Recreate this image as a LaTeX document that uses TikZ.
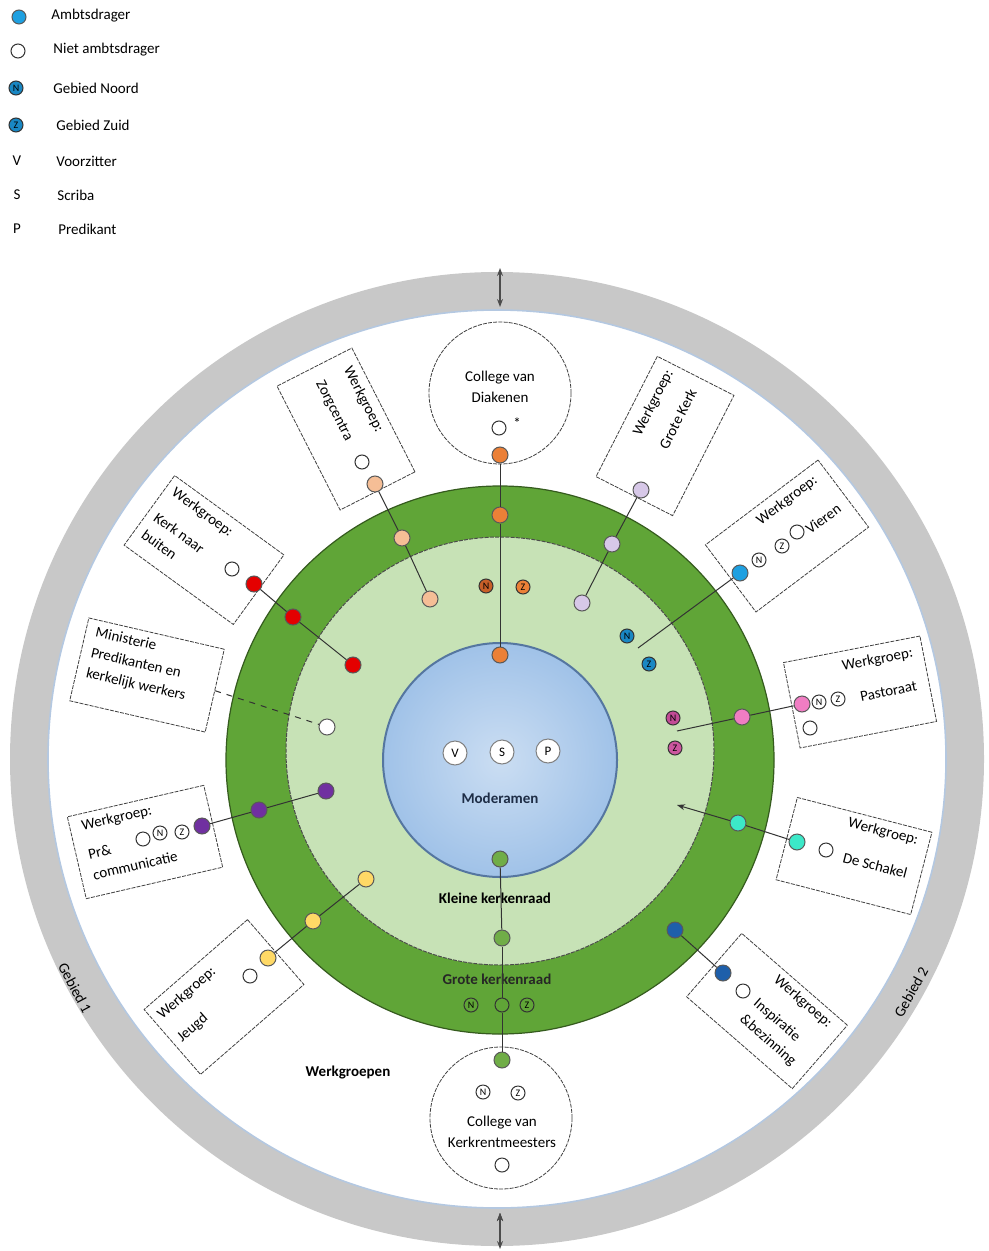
\documentclass[tikz,border=0pt]{standalone}
\usepackage{fontspec}
\setmainfont{Carlito}
\usetikzlibrary{arrows.meta}

\definecolor{ringgray}{RGB}{200,200,200}
\definecolor{ringrand}{RGB}{180,200,225}
\definecolor{darkgreen}{RGB}{96,165,55}
\definecolor{lightgreen}{RGB}{199,226,182}
\definecolor{modblue}{RGB}{160,194,232}
\definecolor{modedge}{RGB}{85,118,160}
\definecolor{peach}{RGB}{245,190,150}
\definecolor{diakorange}{RGB}{235,128,55}
\definecolor{darkorange}{RGB}{200,95,40}
\definecolor{kerkred}{RGB}{228,0,0}
\definecolor{lilac}{RGB}{215,200,232}
\definecolor{ambtblue}{RGB}{30,160,225}
\definecolor{gebiedblue}{RGB}{25,135,195}
\definecolor{pastpink}{RGB}{240,125,195}
\definecolor{darkpink}{RGB}{195,75,150}
\definecolor{turq}{RGB}{60,232,200}
\definecolor{inspblue}{RGB}{30,95,170}
\definecolor{prpurple}{RGB}{112,48,160}
\definecolor{jeugdyellow}{RGB}{255,217,102}
\definecolor{kmgreen}{RGB}{112,173,71}

\begin{document}
\begin{tikzpicture}
        [x=0.5pt,y=-0.5pt,
        every node/.style={inner sep=0pt,font=\fontsize{7.5}{10.5}\selectfont},
        lid/.style={circle,draw=black!65,line width=0.5pt,minimum size=8pt},
        nietlid/.style={circle,draw=black!80,line width=0.5pt,fill=white,minimum size=7pt},
        gebied/.style={circle,draw=black!80,line width=0.5pt,minimum size=7pt,font=\fontsize{5}{5}\selectfont},
        vsp/.style={circle,draw=black!50,line width=0.5pt,fill=white,minimum size=12pt,font=\fontsize{6.5}{6.5}\selectfont},
        werkbox/.style={draw=black!75,line width=0.4pt,dash pattern=on 2pt off 0.6pt,fill=white},
        college/.style={circle,draw=black!75,line width=0.4pt,dash pattern=on 2pt off 0.6pt,fill=white,minimum size=71pt},
        ringtekst/.style={font=\fontsize{7.5}{9}\selectfont\bfseries},
        lijn/.style={draw=black!80,line width=0.5pt}]
        \useasboundingbox (0,0) rectangle (989,1251);

        %Legenda
        \node[lid,fill=ambtblue,minimum size=7pt] (lgamb) at (19,17) {};
        \node[anchor=west] (lgambt) at (51,16) {Ambtsdrager};
        \node[nietlid] (lgniet) at (18,51) {};
        \node[anchor=west] (lgniett) at (53,50) {Niet ambtsdrager};
        \node[gebied,fill=gebiedblue] (lgnoord) at (16,88) {N};
        \node[anchor=west] (lgnoordt) at (53,88) {Gebied Noord};
        \node[gebied,fill=gebiedblue] (lgzuid) at (16,125) {Z};
        \node[anchor=west] (lgzuidt) at (56,125) {Gebied Zuid};
        \node (lgv) at (17,161) {V};
        \node[anchor=west] (lgvt) at (56,161) {Voorzitter};
        \node (lgs) at (17,195) {S};
        \node[anchor=west] (lgst) at (57,195) {Scriba};
        \node (lgp) at (17,229) {P};
        \node[anchor=west] (lgpt) at (58,229) {Predikant};

        %Gebieden
        \fill[ringgray] (497,759) circle[radius=487];
        \fill[white] (497,759) circle[radius=449];
        \draw[ringrand,line width=0.8pt] (497,759) circle[radius=449];
        \node[rotate=-62] (gebied1) at (75,988) {Gebied 1};
        \node[rotate=61] (gebied2) at (911,992) {Gebied 2};
        \coordinate (pijlboven1) at (500,268);
        \coordinate (pijlboven2) at (500,307);
        \coordinate (pijlonder1) at (500,1213);
        \coordinate (pijlonder2) at (500,1249);
        \draw[black!70,line width=0.6pt,{Stealth[length=4pt,width=3pt]}-{Stealth[length=4pt,width=3pt]}]
        (pijlboven1) edge (pijlboven2)
        (pijlonder1) edge (pijlonder2);

        %Kerkenraad
        \filldraw[fill=darkgreen,draw=darkgreen!55!black,line width=0.6pt] (500,760) circle[radius=274];
        \filldraw[fill=lightgreen,draw=black!70,line width=0.5pt,dash pattern=on 2pt off 0.6pt] (500,751) circle[radius=214];
        \shade[inner color=modblue!55!white,outer color=modblue] (500,760) circle[radius=117];
        \draw[modedge,line width=1pt] (500,760) circle[radius=117];
        \node[vsp] (voorz) at (455,753) {V};
        \node[vsp] (scriba) at (502,752) {S};
        \node[vsp] (pred) at (548,751) {P};
        \node[ringtekst,text={rgb,255:red,30;green,45;blue,70}] (moder) at (500,798) {Moderamen};
        \node[ringtekst] (kleine) at (495,898) {Kleine kerkenraad};
        \node[ringtekst,text=black!85] (grote) at (497,979) {Grote kerkenraad};
        \node[ringtekst] (werkgr) at (348,1072) {Werkgroepen};

        %Colleges
        \node[college] (diak) at (500,393) {};
        \node[align=center] (diaktxt) at (500,387) {College van\\Diakenen};
        \node[nietlid] (diakniet) at (499,428) {};
        \node (ster) at (517,423) {*};
        \node[college] (kerkm) at (501,1118) {};
        \node[align=center] (kerkmtxt) at (502,1132) {College van\\Kerkrentmeesters};
        \node[gebied,fill=white] (kerkmN) at (483,1092) {N};
        \node[gebied,fill=white] (kerkmZ) at (518,1093) {Z};
        \node[nietlid] (kerkmniet) at (502,1165) {};

        %Werkgroepen
        \node[werkbox,rotate=-63,minimum width=69.5pt,minimum height=42pt] (zorgbox) at (346,429) {};
        \node[rotate=-63,anchor=north west,align=left] (zorgtxt) at (353,364) {Werkgroep:\\[5pt]Zorgcentra};
        \node[werkbox,rotate=-36,minimum width=67.5pt,minimum height=43pt] (buitenbox) at (204,550) {};
        \node[rotate=-36,anchor=north west,align=left] (buitentxt) at (177,486) {Werkgroep:\\[5pt]Kerk naar\\buiten};
        \node[werkbox,rotate=-13,minimum width=69.5pt,minimum height=42.5pt] (minbox) at (147,675) {};
        \node[rotate=-13,anchor=north west,align=left] (mintxt) at (97,626) {Ministerie\\Predikanten en\\kerkelijk werkers};
        \node[werkbox,rotate=13,minimum width=70pt,minimum height=42pt] (prbox) at (145,842) {};
        \node[rotate=13,anchor=north west,align=left] (prtxt) at (80,820) {Werkgroep:\\[4.5pt]Pr\&\\communicatie};
        \node[werkbox,rotate=41,minimum width=68.5pt,minimum height=43pt] (jeugdbox) at (224,997) {};
        \node[rotate=41,anchor=north west,align=left] (jeugdtxt) at (155,1012) {Werkgroep:\\[4.5pt]Jeugd};
        \node[werkbox,rotate=63,minimum width=67.5pt,minimum height=43pt] (grotebox) at (665,436) {};
        \node[rotate=63,anchor=north west,align=left] (grotetxt) at (631,432) {Werkgroep:\\[4.5pt]Grote Kerk};
        \node[werkbox,rotate=37,minimum width=70.5pt,minimum height=42pt] (vierenbox) at (787,536) {};
        \node[rotate=37,anchor=north west] (vierentxt) at (754,517) {Werkgroep:};
        \node[rotate=37,anchor=west] (vierentxt2) at (807,531) {Vieren};
        \node[werkbox,rotate=11,minimum width=69.5pt,minimum height=43.5pt] (pastbox) at (860,692) {};
        \node[rotate=11,anchor=west] (pasttxt) at (842,667) {Werkgroep:};
        \node[rotate=11,anchor=west] (pasttxt2) at (860,697) {Pastoraat};
        \node[werkbox,rotate=-14.5,minimum width=69.5pt,minimum height=42.5pt] (schakelbox) at (854,856) {};
        \node[rotate=-14.5,anchor=west] (schakeltxt) at (848,823) {Werkgroep:};
        \node[rotate=-14.5,anchor=west] (schakeltxt2) at (843,857) {De Schakel};
        \node[werkbox,rotate=-41,minimum width=70pt,minimum height=42pt] (inspbox) at (767,1011) {};
        \node[rotate=-41,anchor=north west,align=left] (insptxt) at (780,973) {Werkgroep:\\[5pt]Inspiratie\\\&bezinning};

        %Leden
        \node[lid,fill=diakorange] (diak1) at (500,455) {};
        \node[lid,fill=diakorange] (diak2) at (500,515) {};
        \node[lid,fill=diakorange] (diak3) at (500,655) {};
        \node[gebied,fill=darkorange] (diakN) at (486,586) {N};
        \node[gebied,fill=diakorange] (diakZ) at (523,587) {Z};

        \node[nietlid] (zorgniet) at (362,462) {};
        \node[lid,fill=peach] (zorg1) at (375,484) {};
        \node[lid,fill=peach] (zorg2) at (402,538) {};
        \node[lid,fill=peach] (zorg3) at (430,599) {};

        \node[nietlid] (buitenniet) at (232,569) {};
        \node[lid,fill=kerkred] (buiten1) at (254,584) {};
        \node[lid,fill=kerkred] (buiten2) at (293,617) {};
        \node[lid,fill=kerkred] (buiten3) at (353,665) {};

        \node[lid,fill=white] (minwit) at (327,727) {};

        \node[nietlid] (prniet) at (143,839) {};
        \node[gebied,fill=white] (prN) at (160,833) {N};
        \node[gebied,fill=white] (prZ) at (182,832) {Z};
        \node[lid,fill=prpurple] (pr1) at (202,826) {};
        \node[lid,fill=prpurple] (pr2) at (259,810) {};
        \node[lid,fill=prpurple] (pr3) at (326,791) {};

        \node[nietlid] (jeugdniet) at (250,976) {};
        \node[lid,fill=jeugdyellow] (jeugd1) at (268,958) {};
        \node[lid,fill=jeugdyellow] (jeugd2) at (313,921) {};
        \node[lid,fill=jeugdyellow] (jeugd3) at (366,879) {};

        \node[lid,fill=lilac] (grote1) at (641,490) {};
        \node[lid,fill=lilac] (grote2) at (612,544) {};
        \node[lid,fill=lilac] (grote3) at (582,603) {};

        \node[lid,fill=ambtblue] (vieren1) at (740,573) {};
        \node[gebied,fill=white] (vierenN) at (759,560) {N};
        \node[gebied,fill=white] (vierenZ) at (782,546) {Z};
        \node[nietlid] (vierenniet) at (797,532) {};
        \node[gebied,fill=gebiedblue] (vierenN2) at (627,636) {N};
        \node[gebied,fill=gebiedblue] (vierenZ2) at (649,664) {Z};
        \coordinate (vierenend) at (638,648);

        \node[lid,fill=pastpink] (past1) at (802,704) {};
        \node[gebied,fill=white] (pastN) at (819,702) {N};
        \node[gebied,fill=white] (pastZ) at (838,699) {Z};
        \node[nietlid] (pastniet) at (810,728) {};
        \node[lid,fill=pastpink] (past2) at (742,717) {};
        \node[gebied,fill=darkpink] (pastN2) at (673,718) {N};
        \node[gebied,fill=darkpink!80!pastpink] (pastZ2) at (675,748) {Z};
        \coordinate (pastend) at (677,731);

        \node[lid,fill=turq] (schakel1) at (797,842) {};
        \node[nietlid] (schakelniet) at (826,850) {};
        \node[lid,fill=turq] (schakel2) at (738,823) {};
        \coordinate (schakelend) at (677,805);

        \node[lid,fill=inspblue] (insp1) at (723,973) {};
        \node[nietlid] (inspniet) at (743,991) {};
        \node[lid,fill=inspblue] (insp2) at (675,930) {};

        \node[lid,fill=kmgreen] (kerkm1) at (502,1060) {};
        \node[gebied] (groteN) at (471,1005) {N};
        \node[gebied,fill=none] (grote0) at (502,1005) {};
        \node[gebied] (groteZ) at (527,1005) {Z};
        \node[lid,fill=kmgreen] (kerkm2) at (502,938) {};
        \node[lid,fill=kmgreen] (kerkm3) at (500,859) {};

        %Verbindingen
        \draw[lijn]
        (diak1)     edge    (diak2)
        (diak2)     edge    (diak3)
        (zorg1)     edge    (zorg2)
        (zorg2)     edge    (zorg3)
        (buiten1)   edge    (buiten2)
        (buiten2)   edge    (buiten3)
        (pr1)       edge    (pr2)
        (pr2)       edge    (pr3)
        (jeugd1)    edge    (jeugd2)
        (jeugd2)    edge    (jeugd3)
        (grote1)    edge    (grote2)
        (grote2)    edge    (grote3)
        (vieren1)   edge    (vierenend)
        (past1)     edge    (past2)
        (past2)     edge    (pastend)
        (schakel1)  edge    (schakel2)
        (insp1)     edge    (insp2)
        (kerkm1)    edge    (grote0)
        (grote0)    edge    (kerkm2)
        (kerkm2)    edge    (kerkm3);

        \draw[lijn,-{Stealth[length=4pt,width=3pt]}] (schakel2) -- (schakelend);
        \draw[lijn,dashed] (minbox.east) -- (minwit);
    \end{tikzpicture}
\end{document}
